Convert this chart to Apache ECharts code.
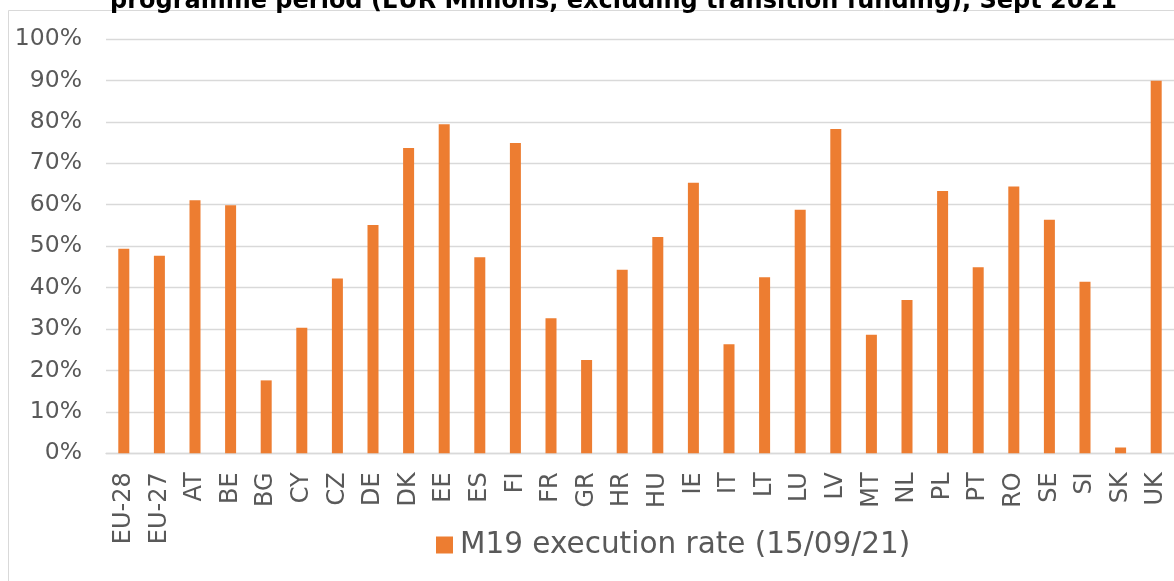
<!DOCTYPE html>
<html>
<head>
<meta charset="utf-8">
<script src="https://cdn.jsdelivr.net/npm/echarts@6/dist/echarts.min.js"></script>
<style>
  html, body { margin: 0; padding: 0; background: #fff; }
  #chart { width: 1174px; height: 581px; }
</style>
</head>
<body>
<div id="chart"></div>
<script>
// Member states (plus EU aggregates) on the category axis
const categories = ['EU-28', 'EU-27', 'AT', 'BE', 'BG', 'CY', 'CZ', 'DE', 'DK', 'EE',
  'ES', 'FI', 'FR', 'GR', 'HR', 'HU', 'IE', 'IT', 'LT', 'LU',
  'LV', 'MT', 'NL', 'PL', 'PT', 'RO', 'SE', 'SI', 'SK', 'UK'];

// M19 execution rate, % of programmed amount (15/09/21)
const executionRate = [49.4, 47.7, 61.1, 59.9, 17.6, 30.3, 42.2, 55.1, 73.7, 79.4,
  47.3, 74.9, 32.6, 22.5, 44.3, 52.2, 65.3, 26.3, 42.5, 58.8,
  78.3, 28.6, 37.0, 63.3, 44.9, 64.4, 56.4, 41.4, 1.4, 89.9];

const seriesName = 'M19 execution rate (15/09/21)';
const titleText = 'programme period (EUR Millions, excluding transition funding), Sept 2021';

// Value axis: 0% to 100% in steps of 10%
const yMin = 0, yMax = 100, yStep = 10;

const FONT = '"DejaVu Sans", Verdana, sans-serif';
const TEXT_GREY = '#595959';
const GRID_GREY = '#d9d9d9';
const BAR_ORANGE = '#ED7D31';

const chart = echarts.init(document.getElementById('chart'), null, { renderer: 'canvas' });

chart.setOption({
  animation: false,
  backgroundColor: '#ffffff',
  graphic: [
    {
      type: 'rect',
      silent: true,
      shape: { x: 8.5, y: 10.5, width: 1300, height: 700 },
      style: { fill: 'none', stroke: GRID_GREY, lineWidth: 1 }
    },
    {
      type: 'text',
      silent: true,
      x: 110,
      y: 13.5,
      style: {
        text: titleText,
        font: 'bold 24px ' + FONT,
        fill: '#000000',
        align: 'left',
        verticalAlign: 'bottom'
      }
    }
  ],
  legend: {
    data: [seriesName],
    left: 436,
    top: 530,
    padding: 0,
    itemWidth: 17,
    itemHeight: 17,
    icon: 'rect',
    textStyle: { fontFamily: FONT, fontSize: 29.5, color: TEXT_GREY, padding: [0, 0, 0, 2] }
  },
  grid: {
    left: 106,
    right: -6,
    top: 39,
    bottom: 127.7,
    containLabel: false
  },
  xAxis: {
    type: 'category',
    data: categories,
    axisLine: { show: true, lineStyle: { color: GRID_GREY, width: 1.3 } },
    axisTick: { show: false },
    axisLabel: {
      rotate: 90,
      interval: 0,
      margin: 19,
      fontFamily: FONT,
      fontSize: 24,
      color: TEXT_GREY
    },
    splitLine: { show: false }
  },
  yAxis: {
    type: 'value',
    min: yMin,
    max: yMax,
    interval: yStep,
    axisLine: { show: false },
    axisTick: { show: false },
    axisLabel: {
      margin: 24,
      fontFamily: FONT,
      fontSize: 23.5,
      color: TEXT_GREY,
      formatter: '{value}%'
    },
    splitLine: { show: true, lineStyle: { color: GRID_GREY, width: 1.3 } }
  },
  series: [
    {
      name: seriesName,
      type: 'bar',
      data: executionRate,
      barWidth: 11,
      itemStyle: { color: BAR_ORANGE }
    }
  ]
});
</script>
</body>
</html>
